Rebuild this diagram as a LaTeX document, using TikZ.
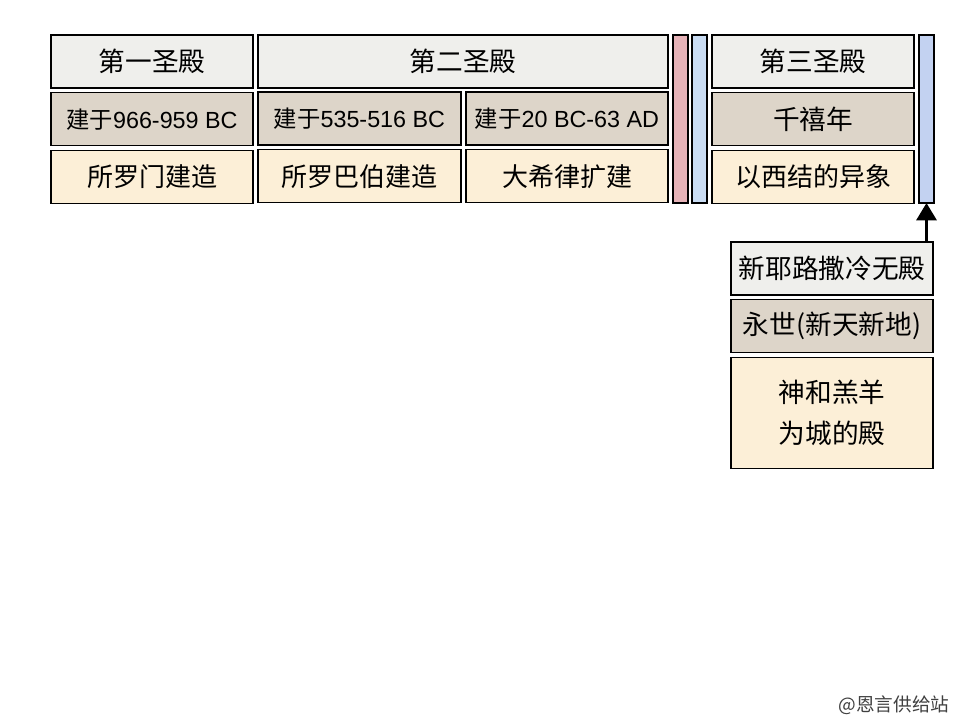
\documentclass[tikz,border=0pt]{standalone}
\usepackage{fontspec}
\setmainfont{Noto Sans CJK SC}
\newfontfamily\latn{Liberation Sans}
\usetikzlibrary{positioning,arrows.meta}

\definecolor{hallgray}{HTML}{EFEFEC}
\definecolor{datetan}{HTML}{DDD5C9}
\definecolor{buildcream}{HTML}{FCEFD7}
\definecolor{barpink}{HTML}{E6B3B8}
\definecolor{barblue}{HTML}{C9DCF3}
\definecolor{barblue2}{HTML}{C3D2F1}

\tikzset{
  cell/.style={draw, line width=0.8pt, inner sep=0pt, outer sep=0pt,
    minimum width=151.5pt, minimum height=39.75pt},
  hall/.style={cell, fill=hallgray, font=\fontsize{20}{24}\selectfont},
  date/.style={cell, fill=datetan, font=\fontsize{17.5}{20}\selectfont},
  build/.style={cell, fill=buildcream, font=\fontsize{19.5}{24}\selectfont},
  era/.style={cell, minimum width=11.25pt, minimum height=126pt}
}

\begin{document}
\begin{tikzpicture}[x=0.75pt, y=-0.75pt, node distance=3.5pt]
  \path[use as bounding box, fill=white] (0,0) rectangle (960,720);

  % top row
  \node[hall] (first) at (152,61.5) {第一圣殿};
  \node[hall, minimum width=307.5pt] (second) at (463,61.5) {第二圣殿};
  \node[hall] (third) at (813,61.5) {第三圣殿};

  % dates
  \node[date] (d1) [below=of first] {建于{\latn 966-959 BC}};
  \node[date, minimum width=152.25pt] (d2) at (359.5,118.5) {建于{\latn 535-516 BC}};
  \node[date] (d3) at (567,118.5) {建于{\latn 20 BC-63 AD}};
  \node[date, font=\fontsize{20}{24}\selectfont] (d4) [below=of third] {千禧年};

  % builders
  \node[build] (b1) [below=of d1] {所罗门建造};
  \node[build, minimum width=152.25pt] (b2) [below=of d2] {所罗巴伯建造};
  \node[build] (b3) [below=of d3] {大希律扩建};
  \node[build] (b4) [below=of d4] {以西结的异象};

  % bars
  \node[era, fill=barpink] (gap1) at (680.5,119) {};
  \node[era, fill=barblue] (gap2) at (699.5,119) {};
  \node[era, fill=barblue2] (gap3) at (926.5,119) {};

  % eternity
  \node[hall] (njlm) at (832,268.5) {新耶路撒冷无殿};
  \node[date, font=\fontsize{20}{24}\selectfont] (eter) [below=of njlm] {永世(新天新地)};
  \node[build, align=center, minimum height=83.25pt,
    font=\fontsize{20}{31}\selectfont] (lamb) [below=of eter] {神和羔羊\\为城的殿};

  \draw[-{Triangle[length=13pt,width=15pt]}, line width=2.3pt]
    (gap3.south |- njlm.north) -- (gap3.south);

  \node[text=black!75, font=\fontsize{14}{16}\selectfont] (mark) at (894,705) {@恩言供给站};
\end{tikzpicture}
\end{document}
